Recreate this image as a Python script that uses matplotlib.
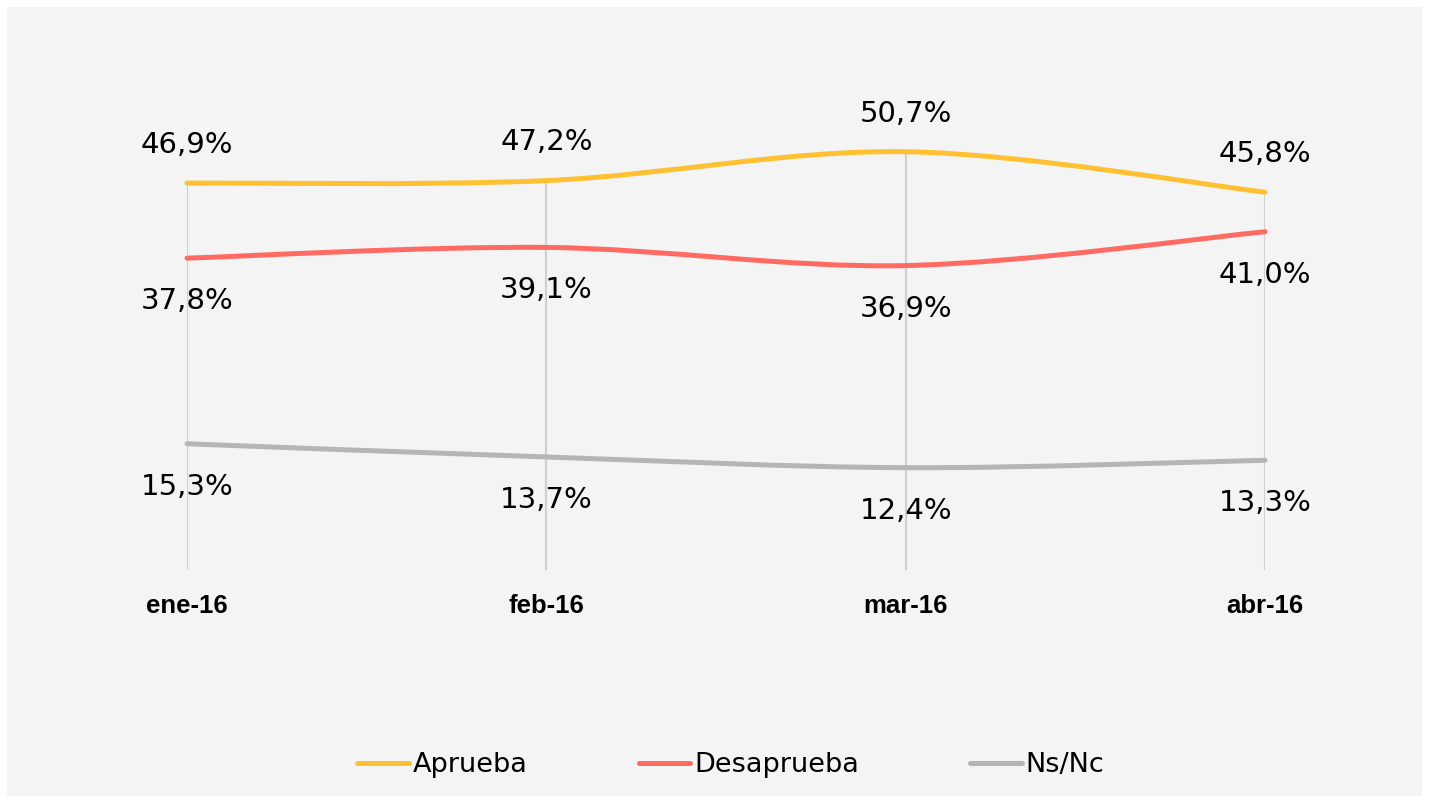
#!/usr/bin/env python3
""" approval lines """
import matplotlib.pyplot as plt
from matplotlib.path import Path
from matplotlib.patches import PathPatch, Rectangle
from matplotlib.lines import Line2D

months = ['ene-16', 'feb-16', 'mar-16', 'abr-16']
aprueba = [46.9, 47.2, 50.7, 45.8]
desaprueba = [37.8, 39.1, 36.9, 41.0]
nsnc = [15.3, 13.7, 12.4, 13.3]

series = [
    ('Aprueba', aprueba, '#FFC132', 'above'),
    ('Desaprueba', desaprueba, '#FF6B63', 'below'),
    ('Ns/Nc', nsnc, '#B5B5B5', 'below'),
]


def smooth_path(xs, ys):
    """ bezier path through the points (catmull-rom style, like excel smoothing) """
    pts = list(zip(xs, ys))
    verts = [pts[0]]
    codes = [Path.MOVETO]
    n = len(pts)
    for i in range(n - 1):
        p0 = pts[max(i - 1, 0)]
        p1 = pts[i]
        p2 = pts[i + 1]
        p3 = pts[min(i + 2, n - 1)]
        c1 = (p1[0] + (p2[0] - p0[0]) / 6, p1[1] + (p2[1] - p0[1]) / 6)
        c2 = (p2[0] - (p3[0] - p1[0]) / 6, p2[1] - (p3[1] - p1[1]) / 6)
        verts += [c1, c2, p2]
        codes += [Path.CURVE4] * 3
    return Path(verts, codes)


W, H = 1429, 801
fig = plt.figure(figsize=(W / 100, H / 100), dpi=100, facecolor='white')
fig.patches.append(Rectangle((7 / W, 5 / H), 1415 / W, 789 / H,
                             transform=fig.transFigure, facecolor='#F4F4F4',
                             edgecolor='none', zorder=-1))

ax = fig.add_axes([187 / W, (H - 570) / H, (1265 - 187) / W, 495 / H])
ax.set_facecolor('none')
x = list(range(len(months)))
ax.set_xlim(0, 3)
ax.set_ylim(0, 60)

# drop lines from the highest point down to the axis
tops = [max(a, d, n) for a, d, n in zip(aprueba, desaprueba, nsnc)]
ax.vlines(x, 0, tops, color='#D0D0D0', lw=1.6, zorder=1)

handles = []
for name, vals, color, pos in series:
    patch = PathPatch(smooth_path(x, vals), facecolor='none', edgecolor=color,
                      lw=3.6, capstyle='round', joinstyle='round', zorder=3,
                      clip_on=False)
    ax.add_patch(patch)
    off = 27.5 if pos == 'above' else -31
    for xi, v in zip(x, vals):
        ax.annotate(f'{v:.1f}%'.replace('.', ','), (xi, v),
                    xytext=(0, off), textcoords='offset points',
                    ha='center', va='center', fontsize=21,
                    family='DejaVu Sans', color='black')
    handles.append(Line2D([], [], color=color, lw=3.6, solid_capstyle='round',
                          label=name))

ax.set_xticks(x)
ax.set_xticklabels(months, fontsize=18.5, fontweight='bold',
                   family='Liberation Sans')
ax.tick_params(axis='x', length=0, pad=17)
ax.set_yticks([])
for s in ax.spines.values():
    s.set_visible(False)

fig.legend(handles=handles, loc='center', bbox_to_anchor=(731 / W, 1 - 765 / H),
           ncol=3, frameon=False, prop={'family': 'DejaVu Sans', 'size': 19.5},
           handlelength=1.9, handletextpad=0.15, columnspacing=4.1)

fig.savefig('out.png', dpi=100, facecolor='white')
